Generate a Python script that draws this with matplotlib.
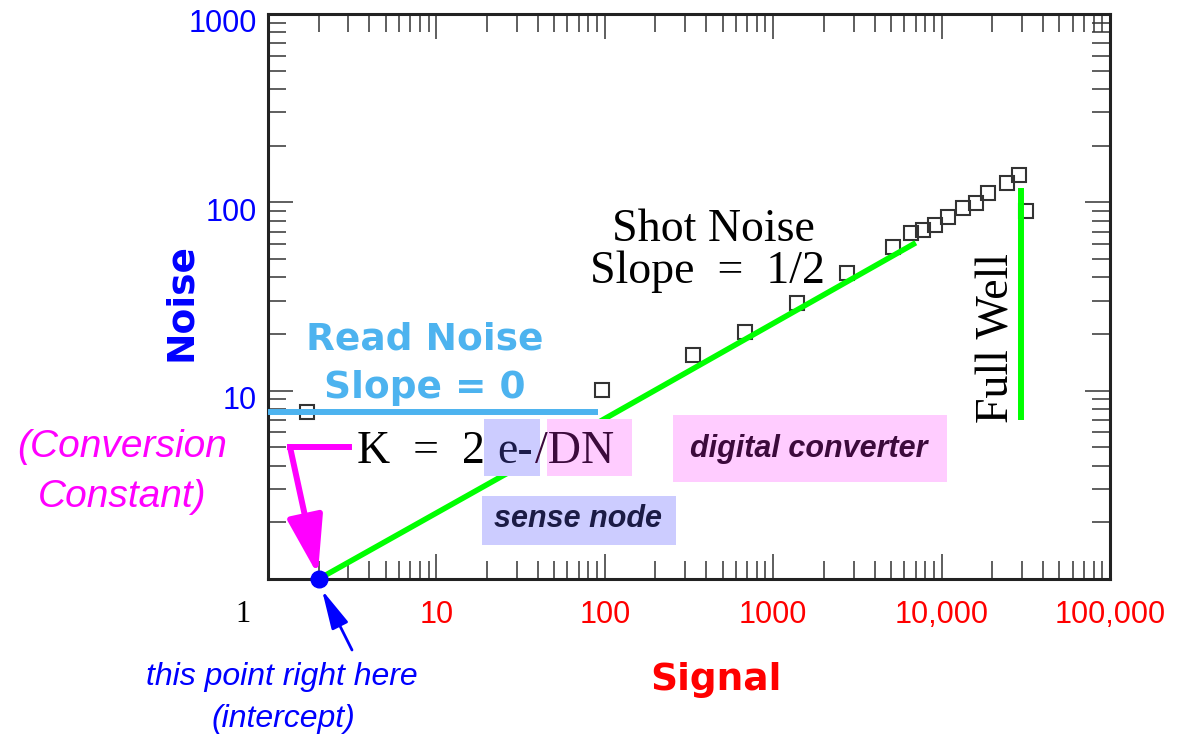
import matplotlib.pyplot as plt
from matplotlib.patches import Rectangle
from matplotlib.lines import Line2D
from matplotlib.ticker import NullFormatter
from matplotlib.transforms import ScaledTranslation

W, H = 1183, 739

# photon transfer curve: noise (e- rms) vs signal (e-)
signal = [1.7, 96, 334, 680, 1385, 2740, 5150, 6580, 7750, 9140, 10900,
          13400, 16000, 18900, 24400, 28800, 31700]
noise = [7.7, 10.1, 15.5, 20.5, 29.2, 42.2, 58.0, 68.8, 71.3, 75.9, 83.6,
         93.4, 99.3, 112, 127, 140, 90]

# guide lines
read_x = [1, 91]
read_y = [7.7, 7.7]
shot1_x = [2, 28.5]
shot1_y = [1, 3.79]
shot2_x = [84, 6800]
shot2_y = [6.5, 60]
well_x = [29600, 29600]
well_y = [7.0, 119]
intercept_x, intercept_y = 2, 1

xticks = [1, 10, 100, 1000, 10000, 100000]
xticklabels = ['1', '10', '100', '1000', '10,000', '100,000']
yticks = [10, 100, 1000]
yticklabels = ['10', '100', '1000']

BLUE = '#0000ff'
RED = '#ff0000'
MAGENTA = '#ff00ff'
GREEN = '#00ff00'
SKY = '#4db3ef'
LAV = '#ccccff'
PINK = '#ffccff'


def fx(x):
    return x / W


def fy(y):
    return 1 - y / H


fig = plt.figure(figsize=(W / 100, H / 100), dpi=100)
ax = fig.add_axes([fx(268), fy(579), (1110 - 268) / W, (579 - 14) / H])
ax.set_xscale('log')
ax.set_yscale('log')
ax.set_xlim(1, 100000)
ax.set_ylim(1, 1000)

ax.plot(signal, noise, 's', ms=10, mfc='none', mec='#333333', mew=1.5, zorder=3)
ax.plot(read_x, read_y, color=SKY, lw=4.3, zorder=4, solid_capstyle='butt')
ax.plot(shot1_x, shot1_y, color=GREEN, lw=4, zorder=4)
ax.plot(shot2_x, shot2_y, color=GREEN, lw=4, zorder=4)
ax.plot(well_x, well_y, color=GREEN, lw=4.3, zorder=4, solid_capstyle='butt')
ax.plot([intercept_x], [intercept_y], 'o', color=BLUE, ms=12, zorder=6, clip_on=False)

# axes frame and ticks
for s in ax.spines.values():
    s.set_linewidth(2.2)
    s.set_color('#222222')
ax.tick_params(which='both', direction='in', top=True, right=True,
               color='#333333', width=1.1)
ax.tick_params(which='major', length=18)
ax.tick_params(which='minor', length=13)
ax.set_xticks(xticks, xticklabels)
ax.set_yticks(yticks, yticklabels)
ax.xaxis.set_minor_formatter(NullFormatter())
ax.yaxis.set_minor_formatter(NullFormatter())
ax.tick_params(axis='x', which='major', pad=15, labelsize=22, labelcolor=RED)
ax.tick_params(axis='y', which='major', pad=8, labelsize=22, labelcolor=BLUE)
for lab in ax.get_xticklabels() + ax.get_yticklabels():
    lab.set_fontfamily('Liberation Sans')
first = ax.get_xticklabels()[0]
first.set_color('black')
first.set_fontfamily('Liberation Serif')
first.set_transform(first.get_transform() + ScaledTranslation(-0.25, 0, fig.dpi_scale_trans))
for lab in ax.get_yticklabels():
    lab.set_transform(lab.get_transform() + ScaledTranslation(0, -0.07, fig.dpi_scale_trans))

# axis titles
fig.text(fx(181), fy(302), 'Noise', rotation=90, ha='center', va='center',
         color=BLUE, fontsize=27, fontweight='bold', family='DejaVu Sans')
fig.text(fx(716), fy(680), 'Signal', ha='center', va='center',
         color=RED, fontsize=27, fontweight='bold', family='DejaVu Sans')

# highlight boxes
for (x0, y0, x1, y1, c) in [(484, 419, 540, 476, LAV), (547, 419, 632, 476, PINK),
                            (482, 496, 676, 545, LAV), (673, 415, 947, 482, PINK)]:
    fig.add_artist(Rectangle((fx(x0), fy(y1)), (x1 - x0) / W, (y1 - y0) / H,
                             transform=fig.transFigure, facecolor=c,
                             edgecolor='none', zorder=2))

serif = 'Liberation Serif'
fig.text(fx(713), fy(241), 'Shot Noise', ha='center', va='baseline',
         fontsize=33, family=serif)
fig.text(fx(707), fy(283), 'Slope  =  1/2', ha='center', va='baseline',
         fontsize=33, family=serif)
fig.text(fx(997), fy(338), 'Full Well', rotation=90, ha='center', va='center',
         fontsize=33, family=serif)
fig.text(fx(357), fy(463), 'K  =  2', ha='left', va='baseline',
         fontsize=33, family=serif)
fig.text(fx(497), fy(463), 'e-', ha='left', va='baseline',
         fontsize=33, family=serif, color='#1b1b4a')
fig.text(fx(535), fy(463), '/DN', ha='left', va='baseline',
         fontsize=33, family=serif, color='#3c0a3c')

fig.text(fx(425), fy(349), 'Read Noise', ha='center', va='baseline',
         fontsize=27, fontweight='bold', family='DejaVu Sans', color=SKY)
fig.text(fx(425), fy(398), 'Slope = 0', ha='center', va='baseline',
         fontsize=27, fontweight='bold', family='DejaVu Sans', color=SKY)

sans = 'Liberation Sans'
fig.text(fx(578), fy(527), 'sense node', ha='center', va='baseline',
         fontsize=22, fontweight='bold', style='italic', family=sans, color='#1b1b45')
fig.text(fx(809), fy(457), 'digital converter', ha='center', va='baseline',
         fontsize=22, fontweight='bold', style='italic', family=sans, color='#3c0a3c')

fig.text(fx(122), fy(457), '(Conversion', ha='center', va='baseline',
         fontsize=28, style='italic', family=sans, color=MAGENTA)
fig.text(fx(122), fy(507), 'Constant)', ha='center', va='baseline',
         fontsize=28, style='italic', family=sans, color=MAGENTA)

fig.text(fx(282), fy(685), 'this point right here', ha='center', va='baseline',
         fontsize=23, style='italic', family=sans, color=BLUE)
fig.text(fx(283), fy(727), '(intercept)', ha='center', va='baseline',
         fontsize=23, style='italic', family=sans, color=BLUE)

# arrows to the intercept
fig.add_artist(Line2D([fx(349), fx(290)], [fy(447), fy(447)], color=MAGENTA,
                      lw=4.3, solid_capstyle='projecting', transform=fig.transFigure))
ax.annotate('', xy=(intercept_x, intercept_y), xycoords='data',
            xytext=(fx(290), fy(447)), textcoords='figure fraction',
            arrowprops=dict(arrowstyle='-|>,head_length=3.6,head_width=1.1',
                            color=MAGENTA, lw=4.3, shrinkA=0, shrinkB=3,
                            mutation_scale=10),
            annotation_clip=False, zorder=5)
ax.annotate('', xy=(fx(322), fy(590)), xycoords='figure fraction',
            xytext=(fx(352), fy(650)), textcoords='figure fraction',
            arrowprops=dict(arrowstyle='-|>,head_length=2.4,head_width=0.55',
                            color=BLUE, lw=2, shrinkA=0, shrinkB=0,
                            mutation_scale=10),
            annotation_clip=False)

fig.savefig('out.png', dpi=100)
